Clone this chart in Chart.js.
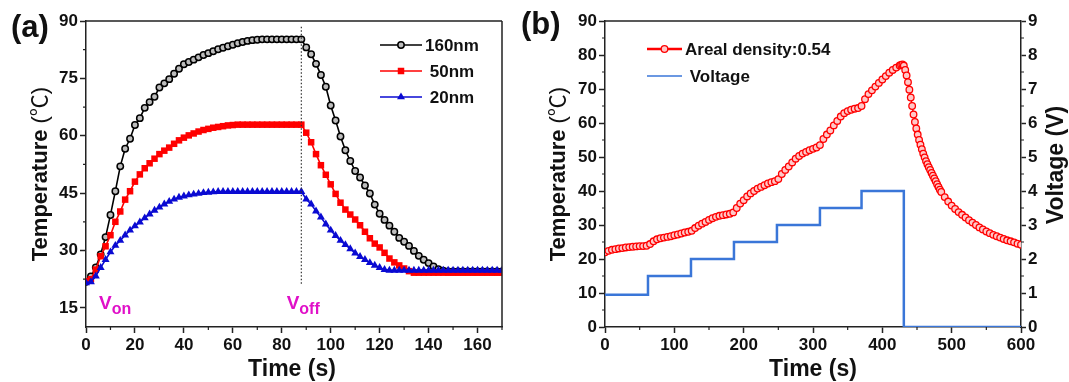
<!DOCTYPE html>
<html>
<head>
<meta charset="utf-8">
<script src="https://cdn.jsdelivr.net/npm/chart.js@4/dist/chart.umd.min.js"></script>
<style>
  html, body { margin: 0; padding: 0; background: #fff; }
  #wrap { position: relative; width: 1069px; height: 382px; overflow: hidden; }
  canvas { position: absolute; top: 0; }
  #chartA { left: 0; }
  #chartB { left: 515px; }
</style>
</head>
<body>
<div id="wrap">
  <canvas id="chartA" width="515" height="382"></canvas>
  <canvas id="chartB" width="554" height="382"></canvas>
</div>
<script>
// ---- panel (a): heating / cooling for three thicknesses ----
const timeA = [
  0, 2, 4, 6, 8, 10, 12, 14, 16, 18,
  20, 22, 24, 26, 28, 30, 32, 34, 36, 38,
  40, 42, 44, 46, 48, 50, 52, 54, 56, 58,
  60, 62, 64, 66, 68, 70, 72, 74, 76, 78,
  80, 82, 84, 86, 88, 90, 92, 94, 96, 98,
  100, 102, 104, 106, 108, 110, 112, 114, 116, 118,
  120, 122, 124, 126, 128, 130, 132, 134, 136, 138,
  140, 142, 144, 146, 148, 150, 152, 154, 156, 158,
  160, 162, 164, 166, 168, 170
];
const temp160 = [
  21.8, 23.2, 25.6, 29.0, 33.5, 39.3, 45.5, 52.0, 56.6, 59.2,
  62.8, 64.6, 67.3, 68.8, 70.2, 72.6, 73.7, 74.8, 76.2, 77.5,
  78.7, 79.3, 79.9, 80.5, 81.1, 81.6, 82.1, 82.6, 83.0, 83.4,
  83.8, 84.2, 84.5, 84.8, 85.0, 85.1, 85.2, 85.2, 85.2, 85.2,
  85.2, 85.2, 85.2, 85.2, 85.2, 83.1, 81.3, 78.8, 75.9, 72.8,
  67.9, 64.0, 59.8, 56.2, 53.4, 50.8, 49.1, 47.0, 44.9, 42.0,
  39.6, 38.0, 36.5, 34.9, 33.3, 32.3, 31.2, 29.9, 28.6, 27.6,
  26.7, 25.8, 25.1, 24.7, 24.5, 24.5, 24.5, 24.5, 24.5, 24.5,
  24.5, 24.5, 24.5, 24.5, 24.5, 24.5
];
const temp50 = [
  22.0, 22.5, 25.0, 28.5, 31.1, 34.0, 37.5, 40.2, 43.3, 45.5,
  48.0, 49.9, 51.5, 52.8, 54.0, 55.2, 56.1, 56.9, 57.9, 58.8,
  59.5, 60.1, 60.6, 61.1, 61.5, 61.8, 62.1, 62.3, 62.5, 62.7,
  62.8, 62.9, 62.9, 62.9, 62.9, 62.9, 62.9, 62.9, 62.9, 62.9,
  62.9, 62.9, 62.9, 62.9, 62.9, 60.8, 58.3, 55.2, 52.3, 49.8,
  47.3, 44.8, 42.5, 40.7, 39.4, 38.1, 36.6, 34.9, 33.2, 31.8,
  30.8, 29.4, 27.9, 26.9, 26.1, 25.3, 24.6, 24.2, 24.2, 24.2,
  24.2, 24.2, 24.2, 24.2, 24.2, 24.2, 24.2, 24.2, 24.2, 24.2,
  24.2, 24.2, 24.2, 24.2, 24.2, 24.2
];
const temp20 = [
  21.5, 21.8, 23.3, 25.5, 27.6, 29.6, 31.3, 32.6, 34.0, 35.3,
  36.4, 37.4, 38.5, 39.5, 40.5, 41.3, 42.1, 42.8, 43.4, 43.9,
  44.2, 44.5, 44.7, 44.9, 45.1, 45.2, 45.3, 45.4, 45.4, 45.4,
  45.4, 45.4, 45.4, 45.4, 45.4, 45.4, 45.4, 45.4, 45.4, 45.4,
  45.4, 45.4, 45.4, 45.4, 45.4, 43.4, 42.1, 40.3, 38.7, 36.9,
  35.3, 33.9, 32.6, 31.5, 30.4, 29.3, 28.4, 27.6, 26.8, 26.1,
  25.5, 25.0, 24.8, 24.8, 24.8, 24.8, 24.8, 24.8, 24.8, 24.8,
  24.8, 24.8, 24.8, 24.8, 24.8, 24.8, 24.8, 24.8, 24.8, 24.8,
  24.8, 24.8, 24.8, 24.8, 24.8, 24.8
];
const timeTicksA = [0, 20, 40, 60, 80, 100, 120, 140, 160];
const tempTicksA = [15, 30, 45, 60, 75, 90];
const voffTime = [88, 88];
const voffTemp = [88.5, 21];

// ---- panel (b): stepped voltage ----
const timeB = [
  0, 5, 10, 15, 20, 25, 30, 35, 40, 45,
  50, 55, 60, 65, 70, 75, 80, 85, 90, 95,
  100, 105, 110, 115, 120, 125, 130, 135, 140, 145,
  150, 155, 160, 165, 170, 175, 180, 185, 190, 195,
  200, 205, 210, 215, 220, 225, 230, 235, 240, 245,
  250, 255, 260, 265, 270, 275, 280, 285, 290, 295,
  300, 305, 310, 315, 320, 325, 330, 335, 340, 345,
  350, 355, 360, 365, 370, 375, 380, 385, 390, 395,
  400, 405, 410, 415, 420, 425,
  427, 429, 431, 433, 435, 437, 439, 441, 443, 445,
  447, 449, 451, 453, 455, 457, 459, 461, 463, 465,
  467, 469, 471, 473, 475, 477, 479, 481, 483, 485,
  490, 495, 500, 505, 510, 515, 520, 525, 530, 535,
  540, 545, 550, 555, 560, 565, 570, 575, 580, 585,
  590, 595, 600
];
const tempB = [
  22.0, 22.4, 22.7, 22.9, 23.1, 23.2, 23.4, 23.5, 23.6, 23.7,
  23.8, 23.8, 23.9, 24.4, 25.2, 25.8, 26.1, 26.3, 26.5, 26.7,
  27.0, 27.2, 27.5, 27.8, 28.0, 28.3, 29.1, 29.8, 30.4, 30.9,
  31.5, 32.0, 32.4, 32.7, 32.9, 33.1, 33.3, 33.7, 35.0, 36.3,
  37.3, 38.4, 39.3, 40.0, 40.7, 41.2, 41.7, 42.2, 42.6, 42.9,
  43.5, 45.0, 46.2, 47.2, 48.4, 49.5, 50.3, 51.0, 51.5, 52.0,
  52.4, 52.8, 53.5, 55.3, 56.6, 57.8, 59.3, 60.6, 61.9, 62.9,
  63.5, 63.9, 64.2, 64.4, 65.0, 67.0, 68.5, 69.6, 70.7, 71.8,
  72.8, 73.8, 74.8, 75.6, 76.3, 76.9,
  77.1, 77.2, 76.9, 75.6, 74.0, 72.0, 69.8, 67.5, 65.0, 62.5,
  60.3, 58.4, 56.6, 55.0, 53.6, 52.3, 51.0, 49.9, 48.8, 47.9,
  47.0, 46.2, 45.3, 44.5, 43.7, 42.9, 42.0, 41.2, 40.4, 39.7,
  38.2, 36.9, 35.7, 34.7, 33.8, 33.0, 32.2, 31.4, 30.7, 30.0,
  29.3, 28.7, 28.1, 27.6, 27.1, 26.7, 26.3, 25.9, 25.5, 25.2,
  24.9, 24.5, 24.2
];
const voltTime = [0, 62, 124, 186, 248, 310, 370, 431, 600];
const voltLevel = [0.95, 1.5, 2.0, 2.5, 3.0, 3.5, 4.0, 0, 0];

const FAMILY = '"Liberation Sans", Arial, sans-serif';
const INK = '#111';
const AXIS = '#222';

const pts = (xs, ys) => xs.map((x, i) => ({ x, y: ys[i] }));

// draws what Chart.js has no option for: closed box, minor ticks,
// axis titles with mixed weights, framed legend, panel letters, notes
const framePlugin = {
  id: 'frame',
  afterDatasetsDraw(chart, args, opts) {
    const ctx = chart.ctx;
    const area = chart.chartArea;
    ctx.save();
    ctx.strokeStyle = AXIS;
    ctx.lineWidth = 1.5;
    ctx.beginPath();
    ctx.moveTo(area.left, area.top);
    ctx.lineTo(area.right, area.top);
    if (opts.closeRight) {
      ctx.moveTo(area.right, area.top);
      ctx.lineTo(area.right, area.bottom);
    }
    ctx.stroke();

    // minor ticks halfway between the major ones
    ctx.lineWidth = 1.2;
    (opts.minor || []).forEach(m => {
      const scale = chart.scales[m.axis];
      const vals = scale.ticks.map(t => t.value);
      const step = vals[1] - vals[0];
      const minors = vals.map(v => v - step / 2).concat([vals[vals.length - 1] + step / 2]);
      ctx.beginPath();
      minors.forEach(v => {
        if (v < scale.min || v > scale.max) return;
        const p = scale.getPixelForValue(v);
        if (scale.isHorizontal()) {
          ctx.moveTo(p, scale.top);
          ctx.lineTo(p, scale.top + m.len);
        } else if (scale.position === 'left') {
          ctx.moveTo(scale.right, p);
          ctx.lineTo(scale.right - m.len, p);
        } else {
          ctx.moveTo(scale.left, p);
          ctx.lineTo(scale.left + m.len, p);
        }
      });
      ctx.stroke();
    });

    // axis titles
    ctx.fillStyle = INK;
    (opts.titles || []).forEach(tt => {
      ctx.save();
      ctx.translate(tt.x, tt.y);
      ctx.rotate(tt.rot || 0);
      ctx.textBaseline = tt.rot ? 'middle' : 'alphabetic';
      let total = 0;
      tt.parts.forEach(p => { ctx.font = p.font; total += ctx.measureText(p.t).width; });
      let cx = -total / 2;
      tt.parts.forEach(p => {
        ctx.font = p.font;
        ctx.textAlign = 'left';
        ctx.fillText(p.t, cx, 0);
        cx += ctx.measureText(p.t).width;
      });
      ctx.restore();
    });

    // panel letter
    if (opts.letter) {
      ctx.font = 'bold 31px ' + FAMILY;
      ctx.textAlign = 'left';
      ctx.textBaseline = 'alphabetic';
      ctx.fillText(opts.letter.t, opts.letter.x, opts.letter.y);
    }

    // legend built from the datasets
    if (opts.legend) {
      const lg = opts.legend;
      const items = chart.data.datasets.filter(d => d.label);
      items.forEach((d, i) => {
        const y = lg.ys[i];
        ctx.strokeStyle = d.borderColor;
        ctx.lineWidth = d.legendWidth || d.borderWidth;
        ctx.setLineDash([]);
        ctx.beginPath();
        ctx.moveTo(lg.x0, y);
        ctx.lineTo(lg.x1, y);
        ctx.stroke();
        if (d.pointRadius > 0) {
          ctx.fillStyle = d.pointBackgroundColor || d.backgroundColor;
          ctx.strokeStyle = d.pointBorderColor || d.borderColor;
          ctx.lineWidth = d.pointBorderWidth;
          Chart.helpers.drawPoint(ctx, {
            pointStyle: d.pointStyle, radius: d.pointRadius,
            borderWidth: d.pointBorderWidth, rotation: 0
          }, (lg.x0 + lg.x1) / 2, y);
        }
        ctx.fillStyle = INK;
        ctx.font = 'bold 17px ' + FAMILY;
        ctx.textAlign = 'left';
        ctx.textBaseline = 'middle';
        ctx.fillText(d.label, lg.tx, y + 1);
      });
    }

    // V_on / V_off notes placed in data units
    (opts.notes || []).forEach(n => {
      const x = chart.scales.x.getPixelForValue(n.t);
      const y = chart.scales.y.getPixelForValue(n.v);
      ctx.fillStyle = '#e010c8';
      ctx.textAlign = 'left';
      ctx.textBaseline = 'alphabetic';
      ctx.font = 'bold 19px ' + FAMILY;
      ctx.fillText(n.main, x, y);
      const w = ctx.measureText(n.main).width;
      ctx.font = 'bold 16px ' + FAMILY;
      ctx.fillText(n.sub, x + w, y + 5);
    });
    ctx.restore();
  }
};

const tickFont = { family: FAMILY, size: 17, weight: 'bold' };
const axisBase = (len) => ({
  grid: { drawOnChartArea: false, tickLength: len, tickColor: AXIS, tickWidth: 1.5 },
  border: { color: AXIS, width: 1.5 },
  ticks: { font: tickFont, color: INK, padding: 2, maxRotation: 0, autoSkip: false }
});
const bold22 = 'bold 22px ' + FAMILY;
const thin22 = '22px ' + FAMILY + ', "Noto Sans CJK SC"';

new Chart(document.getElementById('chartA'), {
  type: 'line',
  data: {
    datasets: [
      {
        label: '160nm', data: pts(timeA, temp160), order: 3,
        borderColor: '#000', backgroundColor: '#bdbdbd', borderWidth: 1.6,
        pointStyle: 'circle', pointRadius: 3.2, pointBorderWidth: 1.5
      },
      {
        label: ' 50nm', data: pts(timeA, temp50), order: 2,
        borderColor: '#ff0000', backgroundColor: '#ff0000', borderWidth: 1.6,
        pointStyle: 'rect', pointRadius: 4.6, pointBorderWidth: 0
      },
      {
        label: ' 20nm', data: pts(timeA, temp20), order: 1,
        borderColor: '#0a0ad2', backgroundColor: '#0a0ad2', borderWidth: 1.6,
        pointStyle: 'triangle', pointRadius: 4.6, pointBorderWidth: 0
      },
      {
        data: pts(voffTime, voffTemp), order: 0,
        borderColor: '#333', borderWidth: 1.2, borderDash: [1.5, 2], pointRadius: 0
      }
    ]
  },
  options: {
    responsive: false, animation: false, devicePixelRatio: 1, events: [],
    layout: { padding: { top: 21, right: 13, left: 0, bottom: 0 } },
    scales: {
      x: Object.assign(axisBase(6), {
        type: 'linear', min: 0, max: 170,
        afterBuildTicks: s => { s.ticks = timeTicksA.map(v => ({ value: v })); },
        afterFit: s => { s.height = 55; }
      }),
      y: Object.assign(axisBase(6), {
        type: 'linear', min: 10, max: 90,
        afterBuildTicks: s => { s.ticks = tempTicksA.map(v => ({ value: v })); },
        afterFit: s => { s.width = 86; }
      })
    },
    plugins: {
      legend: { display: false },
      tooltip: { enabled: false },
      frame: {
        closeRight: true,
        minor: [{ axis: 'x', len: 3 }, { axis: 'y', len: 3 }],
        titles: [
          { parts: [{ t: 'Temperature ', font: bold22 }, { t: '(℃)', font: thin22 }], x: 41, y: 174, rot: -Math.PI / 2 },
          { parts: [{ t: 'Time (s)', font: 'bold 23px ' + FAMILY }], x: 292, y: 376 }
        ],
        letter: { t: '(a)', x: 11, y: 37 },
        legend: { x0: 380, x1: 422, tx: 425, ys: [45, 71, 97] },
        notes: [
          { main: 'V', sub: 'on', t: 5.3, v: 14.6 },
          { main: 'V', sub: 'off', t: 82, v: 14.6 }
        ]
      }
    }
  },
  plugins: [framePlugin]
});

new Chart(document.getElementById('chartB'), {
  type: 'line',
  data: {
    datasets: [
      {
        label: 'Areal density:0.54', data: pts(timeB, tempB),
        borderColor: '#ff0000', backgroundColor: '#ffc8c8', borderWidth: 1.5,
        pointStyle: 'circle', pointRadius: 3.3, pointBorderWidth: 1.3, legendWidth: 2.5
      },
      {
        label: ' Voltage', data: pts(voltTime, voltLevel), yAxisID: 'y1',
        borderColor: '#3a76d8', borderWidth: 2.5, stepped: 'before', pointRadius: 0,
        legendWidth: 1.5
      }
    ]
  },
  options: {
    responsive: false, animation: false, devicePixelRatio: 1, events: [],
    layout: { padding: { top: 21, right: 0, left: 0, bottom: 0 } },
    scales: {
      x: Object.assign(axisBase(6), {
        type: 'linear', min: 0, max: 600,
        afterFit: s => { s.height = 55; }
      }),
      y: Object.assign(axisBase(6), {
        type: 'linear', position: 'left', min: 0, max: 90,
        afterFit: s => { s.width = 90; }
      }),
      y1: Object.assign(axisBase(5), {
        type: 'linear', position: 'right', min: 0, max: 9,
        afterFit: s => { s.width = 48; }
      })
    },
    plugins: {
      legend: { display: false },
      tooltip: { enabled: false },
      frame: {
        closeRight: false,
        minor: [{ axis: 'x', len: 3 }, { axis: 'y', len: 3 }, { axis: 'y1', len: 3 }],
        titles: [
          { parts: [{ t: 'Temperature ', font: bold22 }, { t: '(℃)', font: thin22 }], x: 44, y: 174, rot: -Math.PI / 2 },
          { parts: [{ t: 'Time (s)', font: 'bold 23px ' + FAMILY }], x: 298, y: 376 },
          { parts: [{ t: 'Voltage (V)', font: 'bold 23px ' + FAMILY }], x: 542, y: 165, rot: -Math.PI / 2 }
        ],
        letter: { t: '(b)', x: 6, y: 34 },
        legend: { x0: 132, x1: 167, tx: 170, ys: [49, 76] }
      }
    }
  },
  plugins: [framePlugin]
});
</script>
</body>
</html>
